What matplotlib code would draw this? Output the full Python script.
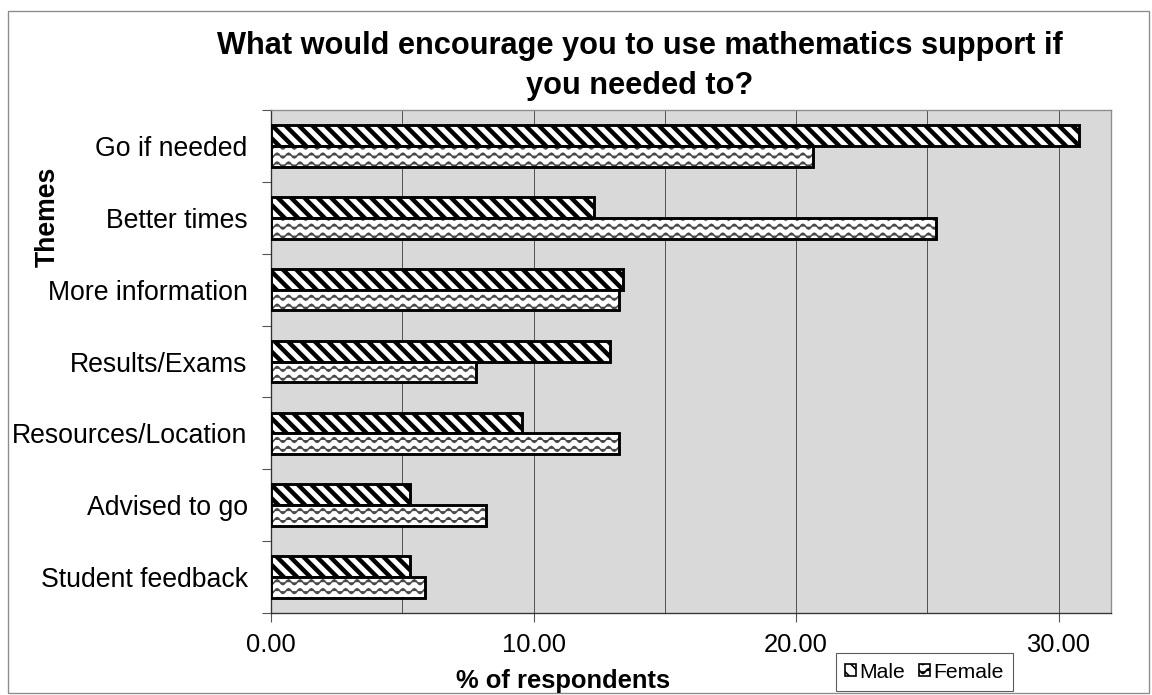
import warnings
import numpy as np
import matplotlib
matplotlib.use("Agg")
import matplotlib.pyplot as plt
from matplotlib import hatch as mhatch
from matplotlib.patches import Patch, Rectangle
from matplotlib.ticker import MultipleLocator, FixedLocator

warnings.filterwarnings("ignore")

# ---- data -------------------------------------------------------------
themes = ["Go if needed", "Better times", "More information", "Results/Exams",
          "Resources/Location", "Advised to go", "Student feedback"]
male = [30.77, 12.31, 13.40, 12.93, 9.57, 5.29, 5.29]
female = [20.65, 25.33, 13.27, 7.81, 13.27, 8.20, 5.87]
series_names = ["Male", "Female"]
title = "What would encourage you to use mathematics support if\nyou needed to?"


# ---- a wavy hatch pattern ('~') -----------------------------------------
class WaveHatch(mhatch.HatchPatternBase):
    def __init__(self, hatch, density):
        n = hatch.count("~")
        self.rows = 9 * n
        self.periods = 7
        self.pts_per_period = 8
        self.pts_per_row = self.periods * self.pts_per_period + 1
        self.num_vertices = self.rows * self.pts_per_row if n else 0

    def set_vertices_and_codes(self, vertices, codes):
        t = np.linspace(0.0, 1.0, self.pts_per_row)
        amp = 0.03
        wave = amp * np.sin(2 * np.pi * self.periods * t)
        k = 0
        for r in range(self.rows):
            y0 = (r + 0.5) / self.rows
            vertices[k:k + self.pts_per_row, 0] = t
            vertices[k:k + self.pts_per_row, 1] = y0 + wave
            codes[k] = mhatch.Path.MOVETO
            codes[k + 1:k + self.pts_per_row] = mhatch.Path.LINETO
            k += self.pts_per_row


mhatch._hatch_types.append(WaveHatch)

plt.rcParams["font.family"] = ["Liberation Sans", "DejaVu Sans"]

DPI = 80
fig = plt.figure(figsize=(1152 / DPI, 695 / DPI), dpi=DPI)
ax = fig.add_axes([271 / 1152, 1 - 613 / 695, (1111 - 271) / 1152, (613 - 110) / 695])
ax.set_facecolor("#d9d9d9")

# outer chart frame
fig.patches.append(Rectangle((8 / 1152, 2 / 695), 1141 / 1152, 682 / 695,
                             transform=fig.transFigure, fill=False,
                             edgecolor="#8c8c8c", linewidth=1.2, zorder=0))

n = len(themes)
ypos = np.arange(n)[::-1]
h = 0.29

# male bars: bold diagonal stripes
plt.rcParams["hatch.linewidth"] = 4.0
ax.barh(ypos + h / 2, male, height=h, color="white", edgecolor="black",
        hatch="\\\\", linewidth=2.6, zorder=3)

# female bars: grey wavy lines, then a black outline on top
plt.rcParams["hatch.linewidth"] = 1.4
ax.barh(ypos - h / 2, female, height=h, color="white", edgecolor="#4a4a4a",
        hatch="~", linewidth=0, zorder=3)
ax.barh(ypos - h / 2, female, height=h, fill=False, edgecolor="black",
        linewidth=2.6, zorder=4)

# axes, ticks, grid
ax.set_xlim(0, 32)
ax.set_ylim(-0.5, n - 0.5)
ax.xaxis.set_major_locator(MultipleLocator(10))
ax.xaxis.set_minor_locator(MultipleLocator(5))
ax.xaxis.set_major_formatter(lambda v, p: f"{v:.2f}")
ax.grid(True, axis="x", which="both", color="#555555", linewidth=0.9, zorder=1)
ax.set_axisbelow(True)
ax.tick_params(axis="x", which="major", length=8, width=1, color="#555555",
               labelsize=23, pad=10)
ax.tick_params(axis="x", which="minor", length=0)

ax.yaxis.set_major_locator(FixedLocator(ypos))
ax.set_yticklabels(themes)
ax.yaxis.set_minor_locator(FixedLocator(np.arange(n + 1) - 0.5))
ax.tick_params(axis="y", which="major", length=0, labelsize=24, pad=21)
ax.tick_params(axis="y", which="minor", length=8, width=1, color="#555555")

for side in ("top", "right"):
    ax.spines[side].set_color("#8c8c8c")
    ax.spines[side].set_linewidth(1.2)
for side in ("left", "bottom"):
    ax.spines[side].set_color("#333333")
    ax.spines[side].set_linewidth(1.2)

fig.text(640 / 1152, 1 - 66 / 695, title, ha="center", va="center",
         fontsize=27.7, fontweight="bold", linespacing=1.45)
fig.text(48 / 1152, 1 - 217 / 695, "Themes", rotation=90, ha="center",
         va="center", fontsize=24, fontweight="bold")
fig.text(563 / 1152, 1 - 681 / 695, "% of respondents", ha="center",
         va="center", fontsize=23, fontweight="bold")

# legend
plt.rcParams["hatch.linewidth"] = 1.5
handles = [Patch(facecolor="white", edgecolor="black", hatch="\\\\", linewidth=1.5),
           Patch(facecolor="white", edgecolor="black", hatch="~", linewidth=1.5)]
leg = fig.legend(handles, series_names, loc="lower right",
                 bbox_to_anchor=(1013 / 1152, 1 - 691 / 695),
                 ncol=2, fontsize=19, frameon=True, fancybox=False,
                 handlelength=0.5, handleheight=0.5, handletextpad=0.15,
                 columnspacing=0.7, borderpad=0.45, borderaxespad=0)
leg.get_frame().set_edgecolor("#333333")
leg.get_frame().set_linewidth(1.0)

fig.savefig("out.png", dpi=DPI)
